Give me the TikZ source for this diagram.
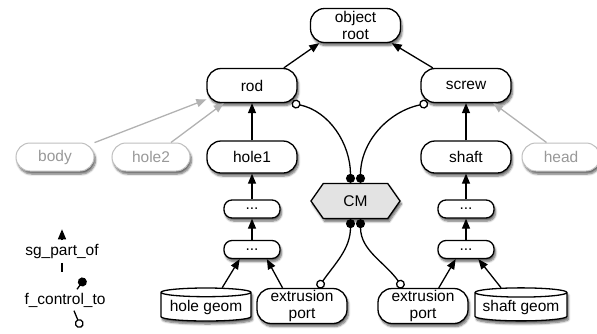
\documentclass[tikz,border=0pt]{standalone}
\usepackage{fontspec}
\setmainfont{Liberation Sans}
\usetikzlibrary{arrows.meta,shapes.geometric,shapes.symbols,shadows.blur}

\begin{document}
\begin{tikzpicture}[x=1pt, y=-1pt,
    font=\fontsize{15.5}{17}\selectfont,
    soft/.style={blur shadow={shadow xshift=1.5pt, shadow yshift=-3pt, shadow blur steps=6, shadow opacity=60}},
    box/.style={draw, line width=1.3pt, fill=white, rounded corners=14pt, minimum width=90pt, minimum height=34pt, inner sep=0pt, align=center, soft},
    ghost/.style={box, draw=gray!50, text=gray!80, minimum width=78pt, minimum height=28pt, line width=1pt},
    dotbox/.style={box, minimum width=56pt, minimum height=18pt, rounded corners=8pt},
    store/.style={draw, line width=1.3pt, fill=white, cylinder, shape border rotate=90, aspect=0.12, minimum width=90pt, minimum height=33pt, inner sep=0pt, soft},
    cmbox/.style={draw, line width=1.3pt, fill=gray!22, signal, signal to=west and east, signal pointer angle=110, minimum width=89pt, minimum height=35pt, inner sep=0pt, soft},
    part/.style={line width=1.3pt, -{Triangle[length=10pt,width=8pt]}},
    partg/.style={part, draw=gray!60},
    ctrl/.style={line width=1.3pt, {Circle[open,length=9pt,fill=white]}-{Circle[length=9pt]}},
    ctrlr/.style={line width=1.3pt, {Circle[length=9pt]}-{Circle[open,length=9pt,fill=white]}}]

      \useasboundingbox (0,0) rectangle (597,333);

      %Top level
      \node [box] (root) at (355.5,25.5) {object\\root};
      \node [box] (rod) at (252,85.5) {rod};
      \node [box] (screw) at (466,85.5) {screw};

      %Rod parts
      \node [ghost] (body) at (55,157) {body};
      \node [ghost] (hole2) at (151,157) {hole2};
      \node [box, minimum height=32pt] (hole1) at (252,157) {hole1};
      \node [dotbox] (dotsl1) at (252,209) {...};
      \node [dotbox] (dotsl2) at (252,249.5) {...};
      \node [store] (hgeom) at (206,307) {hole geom};
      \node [box, minimum height=35pt] (portl) at (302,306) {extrusion\\port};

      %Screw parts
      \node [box, minimum height=32pt] (shaft) at (466,157) {shaft};
      \node [ghost] (head) at (561,157) {head};
      \node [dotbox] (dotsr1) at (466,209) {...};
      \node [dotbox] (dotsr2) at (466,249.5) {...};
      \node [box, minimum height=35pt] (portr) at (423,306) {extrusion\\port};
      \node [store, minimum width=92pt] (sgeom) at (521,307) {shaft geom};

      %Constraint
      \node [cmbox] (cm) at (355.5,201) {CM};

      %sg_part_of
      \draw [part] (rod.29) -- (root.206);
      \draw [part] (screw.152) -- (root.-26);
      \draw [partg] (body.20) -- (rod.197);
      \draw [partg] (hole2.36) -- (rod.212);
      \draw [partg] (head.135) -- (screw.-33);
      \draw [part] (hole1) -- (rod);
      \draw [part] (dotsl1) -- (hole1);
      \draw [part] (dotsl2) -- (dotsl1);
      \draw [part] (hgeom.50) -- (dotsl2.218);
      \draw [part] (portl.137) -- (dotsl2.-33);
      \draw [part] (shaft) -- (screw);
      \draw [part] (dotsr1) -- (shaft);
      \draw [part] (dotsr2) -- (dotsr1);
      \draw [part] (portr.49) -- (dotsr2.223);
      \draw [part] (sgeom.136) -- (dotsr2.-38);

      %f_control_to
      \draw [ctrl] (rod.-24) to[out=-12, in=90] ([xshift=-5pt]cm.north);
      \draw [ctrl] (screw.205) to[out=192, in=90] ([xshift=5pt]cm.north);
      \draw [ctrlr] ([xshift=-5pt]cm.south) to[out=-90, in=55] ([xshift=16pt]portl.north);
      \draw [ctrlr] ([xshift=5pt]cm.south) to[out=-90, in=125] ([xshift=-20pt]portr.north);

      %Legend
      \node (partof) at (62,251) {sg\_part\_of};
      \node (ctrlto) at (65,300) {f\_control\_to};
      \draw [part] (partof.north) -- ++(0,-11);
      \draw [line width=1.3pt] ([yshift=-1pt]partof.south) -- ++(0,9);
      \draw [line width=1.3pt, -{Circle[length=9pt]}] ([xshift=12pt]ctrlto.north) -- ++(8,-11);
      \draw [line width=1.3pt, -{Circle[open,length=9pt,fill=white]}] ([xshift=9pt]ctrlto.south) -- ++(7,17);
\end{tikzpicture}
\end{document}
